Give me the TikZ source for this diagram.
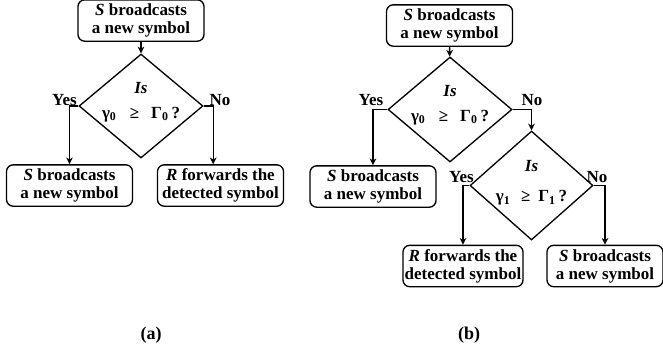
\documentclass[tikz,border=0pt]{standalone}
\usepackage{fontspec}
\setmainfont{Liberation Serif}
\usetikzlibrary{shapes.geometric,arrows.meta}
\begin{document}
\begin{tikzpicture}[x=0.75pt,y=-0.75pt,
    every node/.style={font=\bfseries\fontsize{12.75}{13.5}\selectfont},
    actbox/.style={draw,line width=1pt,rounded corners=5pt,align=center,
      minimum width=94.5pt,minimum height=31pt,inner sep=1pt},
    test/.style={draw,diamond,line width=1pt,minimum width=93pt,
      minimum height=78pt,inner sep=0pt},
    cond/.style={align=center,inner sep=0pt},
    ans/.style={inner sep=1pt},
    >={Stealth[length=5pt,width=5pt,inset=1.5pt]}]
  \useasboundingbox (0,0) rectangle (663,351);
  \draw
    (141,20.5) node[actbox] (a0){\textit{S} broadcasts\\a new symbol}
    (141,106) node[test] (ad){}
    (141,102) node[cond] (aq){\textit{Is}\\[5pt]γ\textsubscript{0}\hspace{10pt}≥\hspace{9pt}Γ\textsubscript{0}\,?}
    (69.5,185.5) node[actbox] (a1){\textit{S} broadcasts\\a new symbol}
    (220.5,185.5) node[actbox] (a2){\textit{R} forwards the\\detected symbol}
    (64.5,100) node[ans] (ay){Yes}
    (220,100) node[ans] (an){No}
    (151,335) node[font=\bfseries\fontsize{13.5}{15}\selectfont] (la){(a)};
  \draw
    (449.5,25.5) node[actbox] (b0){\textit{S} broadcasts\\a new symbol}
    (450,109.5) node[test,minimum height=78.75pt] (bd0){}
    (450,105) node[cond] (bq0){\textit{Is}\\[5pt]γ\textsubscript{0}\hspace{10pt}≥\hspace{9pt}Γ\textsubscript{0}\,?}
    (373,186.5) node[actbox] (b1){\textit{S} broadcasts\\a new symbol}
    (531.5,185.5) node[test,minimum width=92.25pt,minimum height=81.75pt] (bd1){}
    (531.5,183) node[cond] (bq1){\textit{Is}\\[9pt]γ\textsubscript{1}\hspace{8pt}≥\hspace{6pt}Γ\textsubscript{1}\,?}
    (463,266) node[actbox,minimum width=90pt,inner sep=0.5pt] (b2){\textit{R} forwards the\\detected symbol}
    (605,266) node[actbox,minimum width=87pt] (b3){\textit{S} broadcasts\\a new symbol}
    (371,100) node[ans] (by0){Yes}
    (532,100) node[ans] (bn0){No}
    (461.5,177) node[ans] (by1){Yes}
    (597,177) node[ans] (bn1){No}
    (469,335) node[font=\bfseries\fontsize{13.5}{15}\selectfont] (lb){(b)};
  \begin{scope}[->,line width=1pt]
    \draw (a0) to (ad);
    \draw (ad.west) -| (a1.north);
    \draw (ad.east) -| ([xshift=-5.5pt]a2.north);
    \draw (b0) to (bd0);
    \draw (bd0.west) -| (b1.north);
    \draw (bd0.east) -| (bd1.north);
    \draw (bd1.west) -| (b2.north);
    \draw (bd1.east) -| (b3.north);
  \end{scope}
\end{tikzpicture}
\end{document}
